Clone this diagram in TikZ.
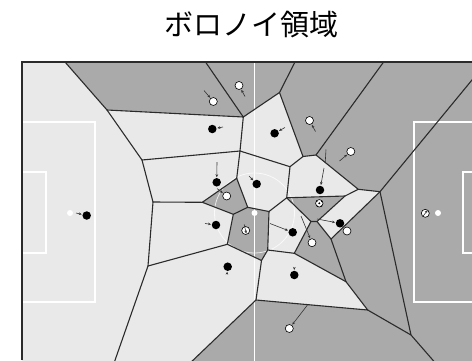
\documentclass[tikz,border=0pt]{standalone}
\usepackage{fontspec}
\newfontfamily\cjk{Noto Sans CJK JP}
\usetikzlibrary{arrows.meta}
\definecolor{lightc}{HTML}{E9E9E9}
\definecolor{darkc}{HTML}{AAAAAA}
\definecolor{edgec}{HTML}{2B2B2B}
\definecolor{arrc}{HTML}{333333}
\begin{document}
\begin{tikzpicture}[x=1pt,y=-1pt,
  lightcell/.style={fill=lightc},
  vedge/.style={draw=edgec,line width=1.1pt,line join=round,line cap=round},
  fieldline/.style={draw=white,line width=1.4pt},
  mv/.style={-{Stealth[length=3pt,width=2.6pt]},draw=arrc,line width=0.6pt,shorten >=0.6pt},
  bpl/.style={circle,fill=black,inner sep=0pt,minimum size=8.5pt},
  wpl/.style={circle,fill=white,draw=black,line width=0.6pt,inner sep=0pt,minimum size=8pt}]
\useasboundingbox (0,0) rectangle (472,360);
\node[font=\cjk\fontsize{29}{32}\selectfont] (title) at (251.5,25) {ボロノイ領域};

\begin{scope}
\clip (22,62) rectangle (472,360);
\fill[darkc] (22,62) rectangle (490,366);
% vertices
\coordinate (A) at (65,62);
\coordinate (B) at (107,110);
\coordinate (C) at (142,160);
\coordinate (D) at (153,202);
\coordinate (E) at (148,266);
\coordinate (F) at (113,366);
\coordinate (G) at (205.5,62);
\coordinate (H) at (243.3,117);
\coordinate (I) at (295,62);
\coordinate (J) at (279.5,92.5);
\coordinate (K) at (240,151);
\coordinate (L) at (303,156.5);
\coordinate (M) at (290,166.7);
\coordinate (N) at (236.7,178.3);
\coordinate (O) at (202.3,202.3);
\coordinate (P) at (247.7,207.3);
\coordinate (Q) at (233.3,214.3);
\coordinate (R) at (227.3,244.3);
\coordinate (S) at (269,211.5);
\coordinate (T) at (286.7,197.8);
\coordinate (U) at (267.7,250);
\coordinate (V) at (261.5,260.5);
\coordinate (W) at (256,300);
\coordinate (X) at (187,366);
\coordinate (Y) at (294.3,253.3);
\coordinate (Z) at (311,221.5);
\coordinate (AA) at (317,221.5);
\coordinate (AB) at (345,196);
\coordinate (AC) at (358.3,189.3);
\coordinate (AD) at (380,191.7);
\coordinate (AE) at (331,239);
\coordinate (AF) at (346,281.7);
\coordinate (AG) at (367.7,310);
\coordinate (AH) at (411,335);
\coordinate (AI) at (438,366);
\coordinate (AJ) at (316,155);
\coordinate (AK) at (383.6,62);
\coordinate (AL) at (486.8,62);
% light cells (black team)
\fill[lightcell] (22,62) -- (A) -- (B) -- (C) -- (D) -- (E) -- (F) -- (22,366) -- cycle;
\fill[lightcell] (B) -- (H) -- (K) -- (C) -- cycle;
\fill[lightcell] (C) -- (K) -- (N) -- (O) -- (D) -- cycle;
\fill[lightcell] (D) -- (O) -- (Q) -- (R) -- (E) -- cycle;
\fill[lightcell] (E) -- (R) -- (V) -- (W) -- (X) -- (F) -- cycle;
\fill[lightcell] (H) -- (J) -- (L) -- (M) -- (K) -- cycle;
\fill[lightcell] (N) -- (K) -- (M) -- (T) -- (S) -- (P) -- cycle;
\fill[lightcell] (M) -- (L) -- (AJ) -- (AC) -- (AB) -- (T) -- cycle;
\fill[lightcell] (S) -- (T) -- (Z) -- (Y) -- (U) -- cycle;
\fill[lightcell] (U) -- (Y) -- (AF) -- (AG) -- (W) -- (V) -- cycle;
\fill[lightcell] (AA) -- (AB) -- (AC) -- (AD) -- (AE) -- cycle;
% field markings
\draw[fieldline] (254.5,62) -- (254.5,366);
\draw[draw=white,line width=0.8pt,opacity=0.75] (254.5,213) circle[radius=40];
\fill[white] (254.5,213) circle[radius=3];
\draw[fieldline] (22,122) rectangle (95,302);
\draw[fieldline] (22,172) rectangle (46,253);
\fill[white] (70,213) circle[radius=3];
\draw[fieldline] (414,122) rectangle (488,302);
\draw[fieldline] (463,172) rectangle (488,253);
\fill[white] (438,213) circle[radius=3];
% voronoi edges
\draw[vedge] (A) -- (B) -- (C) -- (D) -- (E) -- (F);
\draw[vedge] (G) -- (H) -- (B);
\draw[vedge] (H) -- (J) -- (I);
\draw[vedge] (J) -- (L) -- (AJ) -- (AK);
\draw[vedge] (H) -- (K) -- (C);
\draw[vedge] (K) -- (M) -- (L);
\draw[vedge] (K) -- (N) -- (O) -- (D);
\draw[vedge] (N) -- (P) -- (Q) -- (O);
\draw[vedge] (Q) -- (R) -- (E);
\draw[vedge] (P) -- (S) -- (T) -- (M);
\draw[vedge] (T) -- (AB) -- (AC) -- (AJ);
\draw[vedge] (T) -- (Z) -- (AA) -- (AB);
\draw[vedge] (AC) -- (AD) -- (AL);
\draw[vedge] (AD) -- (AE) -- (AA);
\draw[vedge] (Z) -- (Y) -- (U) -- (S);
\draw[vedge] (U) -- (V) -- (R);
\draw[vedge] (V) -- (W) -- (X);
\draw[vedge] (W) -- (AG) -- (AF) -- (Y);
\draw[vedge] (AE) -- (AF);
\draw[vedge] (AG) -- (AH) -- (AD);
\draw[vedge] (AH) -- (AI);
\end{scope}
% field border
\draw[draw=edgec,line width=1.5pt] (22,360) -- (22,62) -- (472,62);

% players
\node[bpl] (b1) at (86.7,215.5) {};
\node[bpl] (b2) at (212.3,129) {};
\node[bpl] (b3) at (216.7,182.3) {};
\node[bpl] (b4) at (216,225) {};
\node[bpl] (b5) at (227.7,266.7) {};
\node[bpl] (b6) at (256.7,184) {};
\node[bpl] (b7) at (274.6,133.3) {};
\node[bpl] (b8) at (320,190) {};
\node[bpl] (b9) at (292.7,232.3) {};
\node[bpl] (b10) at (294.3,275) {};
\node[bpl] (b11) at (340,223.3) {};
\node[wpl] (wa) at (213.3,101.5) {};
\node[wpl] (wb) at (239,85.5) {};
\node[wpl] (wc) at (309.5,120.5) {};
\node[wpl] (wd) at (350.8,151.5) {};
\node[wpl] (we) at (226.7,196) {};
\node[wpl] (wf) at (245.7,230.5) {};
\node[wpl] (wg) at (312,242.7) {};
\node[wpl] (wh) at (347,231) {};
\node[wpl] (wi) at (289.3,328.5) {};
\node[wpl] (wj) at (425.3,213.3) {};
% ball
\node[wpl,minimum size=7.5pt] (ball) at (319.3,203.3) {};
\fill[black] (319.3,203.3) circle[radius=1.1];
\fill[black] (316.8,201.2) circle[radius=0.8];
\fill[black] (321.8,201.4) circle[radius=0.8];
\fill[black] (317.6,206.2) circle[radius=0.8];
\fill[black] (321.4,206) circle[radius=0.8];

% movement arrows
\coordinate (t1) at (76,213);
\coordinate (t2) at (223,127);
\coordinate (ta) at (204,90.5);
\coordinate (tb) at (245,96.5);
\coordinate (tc) at (315.5,131.5);
\coordinate (t7) at (285,127.5);
\coordinate (td) at (339.5,161);
\coordinate (t8a) at (326,149.5);
\coordinate (t8b) at (325.2,163);
\coordinate (t8) at (324,168);
\coordinate (t3) at (217,162);
\coordinate (t4) at (205,223.5);
\coordinate (t6) at (249,176);
\coordinate (te) at (217,188.5);
\coordinate (t9) at (270,223.5);
\coordinate (tg) at (301,216);
\coordinate (t11) at (317,219);
\coordinate (ti) at (307.5,305);
\coordinate (t10) at (294.3,267.5);
\coordinate (t5) at (227,273.5);
\coordinate (tf) at (244.2,224.5);
\coordinate (tfe) at (246.3,233.5);
\coordinate (tj) at (422.8,216.5);
\coordinate (tje) at (427.6,210.2);
\draw[mv] (t1) -- (b1);
\draw[mv] (t2) -- (b2);
\draw[mv] (ta) -- (wa);
\draw[mv] (tb) -- (wb);
\draw[mv] (tc) -- (wc);
\draw[mv] (t7) -- (b7);
\draw[mv] (td) -- (wd);
\draw[draw=arrc,line width=0.6pt] (t8a) -- (t8b);
\draw[mv] (t8) -- (b8);
\draw[mv] (t3) -- (b3);
\draw[mv] (t4) -- (b4);
\draw[mv] (t6) -- (b6);
\draw[mv] (te) -- (we);
\draw[mv] (t9) -- (b9);
\draw[mv] (tg) -- (wg);
\draw[mv] (t11) -- (b11);
\draw[mv] (ti) -- (wi);
\draw[mv] (t10) -- (b10);
\draw[mv] (t5) -- (b5);
\draw[mv,shorten >=0pt] (tf) -- (tfe);
\draw[mv,shorten >=0pt] (tj) -- (tje);
\end{tikzpicture}
\end{document}
